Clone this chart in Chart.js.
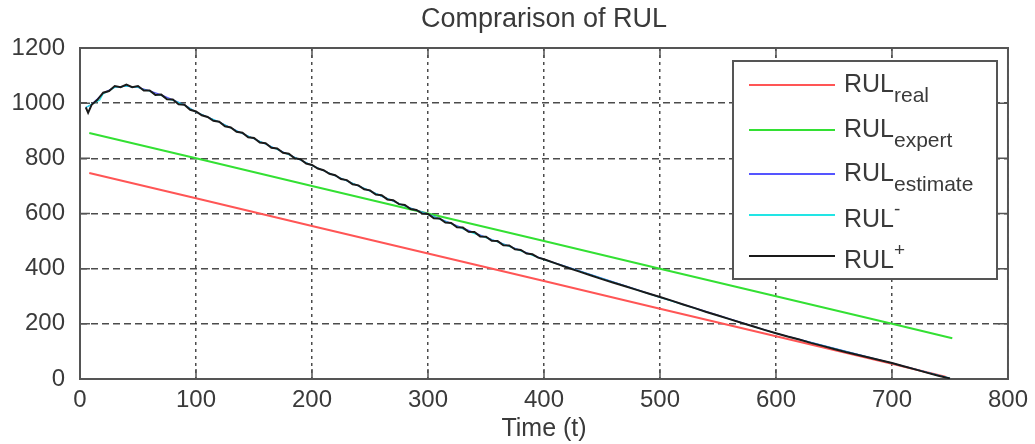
<!DOCTYPE html>
<html>
<head>
<meta charset="utf-8">
<script src="https://cdn.jsdelivr.net/npm/chart.js@4.4.0/dist/chart.umd.min.js"></script>
<style>
  html, body { margin: 0; padding: 0; background: #fff; }
  #c { display: block; }
</style>
</head>
<body>
<canvas id="c" width="1035" height="444"></canvas>
<script>
// axes
const xTicks = [0, 100, 200, 300, 400, 500, 600, 700, 800];
const yTicks = [0, 200, 400, 600, 800, 1000, 1200];

// RUL real (red) - straight line
const realT = [8, 100, 200, 300, 400, 500, 600, 700, 746];
const realV = [747, 655, 555, 455, 355, 255, 155, 55, 8];

// RUL expert (green)
const expertT = [8, 100, 200, 300, 400, 500, 600, 700, 752];
const expertV = [892, 800, 700, 600, 500, 400, 300, 200, 148];

// RUL estimate (blue) - mostly under the black one
const estT = [5, 10, 20, 30, 40, 50, 60, 70, 80, 90, 100, 120, 140, 160, 180, 200, 220, 240, 260, 280, 300,
  350, 400, 500, 600, 700, 750];
const estV = [984, 995, 1036, 1058, 1062, 1057, 1045, 1030, 1012, 994, 968, 932, 890, 852, 814, 774, 737, 700, 663, 627, 598,
  514, 434, 297, 166, 58, 2];

// RUL- (cyan)
const minusT = [5, 10, 17, 20, 25, 30, 35, 40, 45, 50, 55, 60, 65, 70, 75, 80, 90, 100, 110, 120, 130, 140, 150,
  160, 170, 180, 190, 200, 220, 240, 260, 280, 300, 320, 336, 360, 380, 400, 500, 540, 600, 700, 750];
const minusV = [984, 996, 1011, 1034, 1044, 1058, 1059, 1063, 1059, 1058, 1048, 1044, 1031, 1029, 1015, 1011, 993, 968, 950, 932, 910, 890, 871,
  852, 832, 813, 794, 774, 737, 700, 663, 627, 596, 563, 533, 497, 464, 433, 296, 243, 165, 57, 2];

// RUL+ (black, noisy)
const plusT = [5, 7, 10, 15, 20, 25, 30, 35, 40, 45, 50, 55, 60, 65, 70, 75, 80, 85, 90, 95,
  100, 105, 110, 115, 120, 125, 130, 135, 140, 145, 150, 155, 160, 165, 170, 175, 180, 185, 190, 195,
  200, 205, 210, 215, 220, 225, 230, 235, 240, 245, 250, 255, 260, 265, 270, 275, 280, 285, 290, 295,
  300, 305, 310, 315, 320, 325, 330, 335, 340, 345, 350, 355, 360, 365, 370, 375, 380, 385, 390, 395,
  400, 410, 420, 430, 440, 450, 460, 470, 480, 490, 500, 510, 520, 530, 540, 550, 560, 570, 580, 590,
  600, 610, 620, 630, 640, 650, 660, 670, 680, 690, 700, 710, 720, 730, 740, 750];
const plusV = [985, 965, 994, 1012, 1038, 1044, 1062, 1058, 1067, 1058, 1062, 1046, 1046, 1030, 1031, 1014, 1013, 996, 994, 976,
  970, 956, 950, 936, 933, 916, 912, 896, 893, 876, 874, 857, 855, 838, 836, 820, 817, 800, 797, 781,
  776, 763, 757, 744, 739, 725, 721, 706, 702, 688, 684, 669, 666, 651, 648, 634, 631, 616, 613, 600,
  598, 583, 582, 567, 566, 550, 549, 534, 533, 517, 516, 501, 500, 485, 484, 470, 468, 455, 452, 440,
  434, 419, 404, 390, 376, 362, 349, 336, 323, 310, 297, 284, 270, 257, 243, 230, 217, 204, 191, 178,
  166, 154, 143, 131, 120, 109, 98, 88, 78, 68, 58, 46, 35, 23, 12, 2];

const FONT = '"Liberation Sans", Arial, sans-serif';
const TXT = '#3a3a3a';

function pts(ts, vs) {
  return ts.map((t, i) => ({ x: t, y: vs[i] }));
}

// legend entries: main text, script text, sub/sup
const legendItems = [
  { color: '#ff5555', main: 'RUL', extra: 'real', kind: 'sub' },
  { color: '#33e033', main: 'RUL', extra: 'expert', kind: 'sub' },
  { color: '#5555ff', main: 'RUL', extra: 'estimate', kind: 'sub' },
  { color: '#22e5e5', main: 'RUL', extra: '-', kind: 'sup' },
  { color: '#1a1a1a', main: 'RUL', extra: '+', kind: 'sup' },
];

const boxPlugin = {
  id: 'matlabBox',
  beforeDatasetsDraw(chart) {
    const { ctx, chartArea: a, scales: { x, y } } = chart;
    ctx.save();
    ctx.strokeStyle = '#555';
    ctx.lineWidth = 1.5;
    ctx.beginPath();
    xTicks.forEach(v => {
      const px = x.getPixelForValue(v);
      ctx.moveTo(px, a.bottom); ctx.lineTo(px, a.bottom - 10);
      ctx.moveTo(px, a.top); ctx.lineTo(px, a.top + 10);
    });
    yTicks.forEach(v => {
      const py = y.getPixelForValue(v);
      ctx.moveTo(a.left, py); ctx.lineTo(a.left + 10, py);
      ctx.moveTo(a.right, py); ctx.lineTo(a.right - 10, py);
    });
    ctx.stroke();
    ctx.lineWidth = 2;
    ctx.strokeRect(a.left, a.top, a.right - a.left, a.bottom - a.top);
    ctx.restore();
  },
  afterDraw(chart) {
    const ctx = chart.ctx;
    const a = chart.chartArea;
    ctx.save();
    // title, centred over the axes
    ctx.fillStyle = TXT;
    ctx.textAlign = 'center';
    ctx.textBaseline = 'middle';
    ctx.font = '27px ' + FONT;
    ctx.fillText('Comprarison of RUL', (a.left + a.right) / 2, 20);

    // legend box (top right inside the axes)
    const bx = 733, by = 61, bw = 264, bh = 218;
    const rows = [85, 130, 174, 215, 256];
    ctx.fillStyle = '#fff';
    ctx.fillRect(bx, by, bw, bh);
    ctx.strokeStyle = '#555';
    ctx.lineWidth = 2;
    ctx.strokeRect(bx, by, bw, bh);
    legendItems.forEach((it, i) => {
      const ly = rows[i];
      ctx.strokeStyle = it.color;
      ctx.lineWidth = 2;
      ctx.beginPath();
      ctx.moveTo(749, ly); ctx.lineTo(835, ly);
      ctx.stroke();
      ctx.fillStyle = TXT;
      ctx.textBaseline = 'alphabetic';
      ctx.textAlign = 'left';
      ctx.font = '25px ' + FONT;
      const base = it.kind === 'sub' ? ly + 7 : ly + 12;
      ctx.fillText(it.main, 844, base);
      const w = ctx.measureText(it.main).width;
      if (it.kind === 'sub') {
        ctx.font = '21px ' + FONT;
        ctx.fillText(it.extra, 844 + w, base + 10);
      } else {
        ctx.font = '19px ' + FONT;
        ctx.fillText(it.extra, 844 + w, base - 12);
      }
    });
    ctx.restore();
  }
};

const gridOpts = { color: 'rgba(45,45,45,0.85)', lineWidth: 1.5, drawTicks: false };

new Chart(document.getElementById('c'), {
  type: 'line',
  data: {
    datasets: [
      { label: 'RUL real', data: pts(realT, realV), borderColor: '#ff5555', order: 5 },
      { label: 'RUL expert', data: pts(expertT, expertV), borderColor: '#33e033', order: 4 },
      { label: 'RUL estimate', data: pts(estT, estV), borderColor: '#5555ff', borderWidth: 1.2, order: 3 },
      { label: 'RUL-', data: pts(minusT, minusV), borderColor: '#22e5e5', borderWidth: 1.2, order: 2 },
      { label: 'RUL+', data: pts(plusT, plusV), borderColor: '#1a1a1a', borderWidth: 2, order: 1 },
    ]
  },
  options: {
    responsive: false,
    animation: false,
    layout: { padding: { left: 0, right: 27, top: 48, bottom: 0 } },
    elements: { point: { radius: 0 }, line: { tension: 0, borderWidth: 2, fill: false } },
    plugins: {
      legend: { display: false },
      tooltip: { enabled: false },
      title: { display: false }
    },
    scales: {
      x: {
        type: 'linear', min: 0, max: 800,
        ticks: { stepSize: 100, color: TXT, padding: 7, maxRotation: 0, font: { family: FONT, size: 24 },
          callback: v => String(v) },
        grid: gridOpts,
        border: { display: false, dash: [3, 4] },
        title: { display: true, text: 'Time (t)', color: TXT, font: { family: FONT, size: 25 }, padding: { top: 0, bottom: 0 } },
        afterFit(s) { s.height = 65; }
      },
      y: {
        min: 0, max: 1200,
        ticks: { stepSize: 200, color: TXT, padding: 15, font: { family: FONT, size: 24 },
          callback: v => String(v) },
        grid: gridOpts,
        border: { display: false, dash: [7, 4] },
        afterFit(s) { s.width = 80; }
      }
    }
  },
  plugins: [boxPlugin]
});
</script>
</body>
</html>
